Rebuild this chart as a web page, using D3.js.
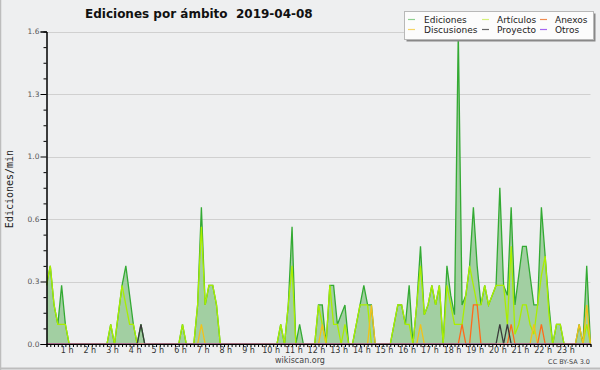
<!DOCTYPE html>
<html><head><meta charset="utf-8">
<script src="https://cdn.jsdelivr.net/npm/d3@7"></script>
<style>
body{margin:0;background:#eeeff0;}
svg{display:block;}
</style>
</head><body>
<svg id="c" width="600" height="370"></svg>
<script>
// ---------- data ----------
const chartTitle = "Ediciones por ámbito  2019-04-08";
const yTitle = "Ediciones/min";
const footer = "wikiscan.org";
const license = "CC BY-SA 3.0";
const stepMinutes = 10; // one value every 10 minutes, starting 00:00
const hourLabels = ["1 h","2 h","3 h","4 h","5 h","6 h","7 h","8 h","9 h","10 h","11 h","12 h","13 h","14 h","15 h","16 h","17 h","18 h","19 h","20 h","21 h","22 h","23 h"];
const yMajorTicks = [0, 0.32, 0.64, 0.96, 1.28, 1.6];
const seriesNames = ["Ediciones","Artículos","Anexos","Discusiones","Proyecto","Otros"];

const ediciones = [
0.3,0.4,0.2,0.1,0.3,0.1,0,0,0,0,
0,0,0,0,0,0,0,0.1,0,0.15,
0.3,0.4,0.25,0.1,0,0.1,0,0,0,0,
0,0,0,0,0,0,0.1,0,0,0,
0.2,0.7,0.2,0.3,0.3,0.2,0,0,0,0,
0,0,0,0,0,0,0,0,0,0,
0,0,0.1,0,0.2,0.6,0,0.1,0,0,
0,0,0.2,0.2,0,0.3,0.3,0.1,0.15,0.2,
0,0,0.1,0.2,0.3,0.2,0.2,0,0,0,
0,0,0.1,0.2,0.2,0.1,0.3,0,0.2,0.5,
0.15,0.2,0.3,0.2,0.3,0,0.4,0.25,0.15,1.6,
0.2,0.25,0.4,0.7,0.4,0.2,0.3,0.2,0.25,0.3,
0.8,0.3,0.25,0.7,0.2,0.35,0.5,0.5,0.35,0.2,
0.2,0.7,0.45,0.2,0,0.1,0.1,0,0,0,
0,0.1,0,0.4,0];

const articulos = [
0.3,0.4,0.2,0.1,0.1,0.1,0,0,0,0,
0,0,0,0,0,0,0,0.1,0,0.15,
0.3,0.2,0.1,0.1,0,0,0,0,0,0,
0,0,0,0,0,0,0.1,0,0,0,
0.2,0.6,0.2,0.3,0.3,0.2,0,0,0,0,
0,0,0,0,0,0,0,0,0,0,
0,0,0.1,0,0.2,0.4,0,0,0,0,
0,0,0.2,0.1,0,0.3,0.1,0.1,0,0.1,
0,0,0.1,0.2,0.2,0.2,0,0,0,0,
0,0,0.1,0.2,0.2,0.1,0.1,0,0.2,0.4,
0.15,0.2,0.3,0.2,0.3,0,0.3,0.2,0.1,0.1,
0.1,0.25,0.4,0.3,0.2,0.2,0.3,0.2,0.25,0.3,
0.3,0.3,0.1,0.5,0.05,0.1,0.2,0.2,0.1,0.05,
0.2,0.35,0.45,0.15,0,0.1,0.1,0,0,0,
0,0,0,0.1,0];

const anexos = [
0,0,0,0,0,0,0,0,0,0, 0,0,0,0,0,0,0,0,0,0,
0,0,0,0,0,0,0,0,0,0, 0,0,0,0,0,0,0,0,0,0,
0,0,0,0,0,0,0,0,0,0, 0,0,0,0,0,0,0,0,0,0,
0,0,0,0,0,0,0,0,0,0, 0,0,0,0,0,0,0,0,0,0,
0,0,0,0,0,0,0,0,0,0, 0,0,0,0,0,0,0,0,0,0,
0,0,0,0,0,0,0,0,0,0,
0.1,0,0,0.2,0.2,0,0,0,0,0,
0,0,0,0.1,0,0,0,0,0,0,
0,0.1,0,0,0,0,0,0,0,0,
0,0,0,0,0];

const discusiones = [
0,0,0,0,0,0,0,0,0,0, 0,0,0,0,0,0,0,0,0,0,
0,0,0,0,0,0,0,0,0,0, 0,0,0,0,0,0,0,0,0,0,
0,0.1,0,0,0,0,0,0,0,0, 0,0,0,0,0,0,0,0,0,0,
0,0,0,0,0,0,0,0,0,0, 0,0,0,0.1,0,0,0,0,0,0,
0,0,0,0,0,0,0.2,0,0,0, 0,0,0,0,0,0,0,0,0,0.1,
0,0,0,0,0,0,0,0,0,0, 0,0,0,0,0,0,0,0,0,0,
0,0,0,0,0,0,0,0,0,0.1,
0,0,0,0,0,0,0,0,0,0,
0,0.1,0,0.2,0];

const proyecto = [
0,0,0,0,0,0,0,0,0,0, 0,0,0,0,0,0,0,0,0,0,
0,0,0,0,0,0.1,0,0,0,0, 0,0,0,0,0,0,0,0,0,0,
0,0,0,0,0,0,0,0,0,0, 0,0,0,0,0,0,0,0,0,0,
0,0,0,0,0,0,0,0,0,0, 0,0,0,0,0,0,0,0,0,0,
0,0,0,0,0,0,0,0,0,0, 0,0,0,0,0,0,0,0,0,0,
0,0,0,0,0,0,0,0,0,0, 0,0,0,0,0,0,0,0,0,0,
0.1,0,0.1,0,0,0,0,0,0,0,
0,0,0,0,0,0,0,0,0,0,
0,0,0,0,0];

const otros = [
0,0,0,0,0,0,0,0,0,0, 0,0,0,0,0,0,0,0,0,0,
0,0,0,0,0,0,0,0,0,0, 0,0,0,0,0,0,0,0,0,0,
0,0,0,0,0,0,0,0,0,0, 0,0,0,0,0,0,0,0,0,0,
0,0,0,0,0,0,0,0,0,0, 0,0,0,0,0,0,0,0,0,0,
0,0,0,0,0,0,0,0,0,0, 0,0,0,0,0,0,0,0,0,0,
0,0,0,0,0,0,0,0,0,0, 0,0,0,0,0,0,0,0,0,0,
0,0,0,0,0,0,0,0,0,0,
0,0,0,0,0,0,0,0,0,0,
0,0,0,0,0];

// ---------- drawing ----------
const svg = d3.select("#c");
const FONT = "'DejaVu Sans', sans-serif";
const x = d3.scaleLinear().domain([0, 1440]).range([46.5, 590.5]);
const y = d3.scaleLinear().domain([0, 1.6]).range([344, 31.5]);

// background + frame
svg.append("rect").attr("width",600).attr("height",370).attr("fill","#eeeff0");
svg.append("line").attr("x1",0.5).attr("x2",0.5).attr("y1",0).attr("y2",370).attr("stroke","#bdbdbd").attr("stroke-width",1.5);
svg.append("line").attr("x1",0).attr("x2",600).attr("y1",368.5).attr("y2",368.5).attr("stroke","#bdbdbd").attr("stroke-width",2);

// grid
svg.append("g").selectAll("line").data(yMajorTicks.slice(1)).join("line")
  .attr("x1",x(0)).attr("x2",x(1440))
  .attr("y1",d=>Math.round(y(d))+0.5).attr("y2",d=>Math.round(y(d))+0.5)
  .attr("stroke","#d0d0d0").attr("stroke-width",1);

// clip so zero-valued segments hide under the axis
svg.append("clipPath").attr("id","plotclip").append("rect")
  .attr("x",x(0)).attr("y",0).attr("width",x(1440)-x(0)+2).attr("height",y(0)-0.4);

const xi = (d,i)=>x(i*stepMinutes);
const area = d3.area().x(xi).y0(y(0)).y1(d=>y(d));
const line = d3.line().x(xi).y(d=>y(d));

const plot = svg.append("g").attr("clip-path","url(#plotclip)");
plot.append("path").datum(ediciones).attr("d",area).attr("fill","#a2cfa2");

const colors = {
  Ediciones:"#33aa33", Artículos:"#aaee00", Anexos:"#ff6a1a",
  Discusiones:"#f2c21a", Proyecto:"#3a3a3a", Otros:"#9b3fe8"
};
const drawOrder = [
  ["Ediciones", ediciones], ["Artículos", articulos], ["Discusiones", discusiones],
  ["Anexos", anexos], ["Proyecto", proyecto], ["Otros", otros]
];
drawOrder.forEach(([name, arr])=>{
  plot.append("path").datum(arr).attr("d",line)
    .attr("fill","none").attr("stroke",colors[name]).attr("stroke-width",1.3)
    .attr("stroke-linejoin","miter");
});

// y axis
const yMinor = d3.range(0, 1.6001, 0.08).filter(v=>!yMajorTicks.some(m=>Math.abs(m-v)<1e-6));
const yAxisMinor = svg.append("g").attr("transform",`translate(${x(0)},0)`)
  .call(d3.axisLeft(y).tickValues(yMinor).tickSize(3).tickFormat(""));
const yAxis = svg.append("g").attr("transform",`translate(${x(0)},0)`)
  .call(d3.axisLeft(y).tickValues(yMajorTicks).tickSize(6).tickPadding(1).tickFormat(d=>d.toFixed(1)));
[yAxisMinor,yAxis].forEach(g=>{
  g.select(".domain").attr("stroke","#000");
  g.selectAll(".tick line").attr("stroke","#000");
});
yAxis.selectAll("text").attr("font-family",FONT).attr("font-size",7.5).attr("fill","#555");

// x axis
const xMinorVals = d3.range(0, 1440+1, stepMinutes);
const xAxis = svg.append("g").attr("transform",`translate(0,${y(0)})`)
  .call(d3.axisBottom(x).tickValues(xMinorVals).tickSize(3).tickFormat(""));
xAxis.select(".domain").attr("stroke","#000");
xAxis.selectAll(".tick line").attr("stroke","#000");
const xLab = svg.append("g").attr("transform",`translate(0,${y(0)})`)
  .call(d3.axisBottom(x).tickValues(hourLabels.map((d,i)=>(i+1)*60)).tickSize(0).tickPadding(3)
    .tickFormat((d,i)=>hourLabels[i]));
xLab.select(".domain").remove();
xLab.selectAll("text").attr("font-family",FONT).attr("font-size",8).attr("fill","#333").attr("dx",-2.5);

// titles
svg.append("text").attr("x",85).attr("y",18).attr("font-family",FONT).attr("font-weight","bold")
  .attr("font-size",12).attr("fill","#111").attr("xml:space","preserve").style("white-space","pre").text(chartTitle);
svg.append("text").attr("transform","translate(13,189) rotate(-90)").attr("text-anchor","middle")
  .attr("font-family","'DejaVu Sans Mono', monospace").attr("font-size",10).attr("fill","#222").text(yTitle);
svg.append("text").attr("x",300).attr("y",363).attr("text-anchor","middle")
  .attr("font-family",FONT).attr("font-size",8).attr("fill","#444").text(footer);
svg.append("text").attr("x",590).attr("y",364).attr("text-anchor","end")
  .attr("font-family",FONT).attr("font-size",6.5).attr("fill","#444").text(license);

// legend
const lg = svg.append("g");
lg.append("rect").attr("x",406.5).attr("y",13.5).attr("width",189).attr("height",28).attr("fill","#888");
lg.append("rect").attr("x",404.5).attr("y",11.5).attr("width",189).attr("height",28).attr("fill","#fcfcfc").attr("stroke","#b8b8b8");
const legendColors = {
  Ediciones:"#8fd08f", Artículos:"#d4f07a", Anexos:"#f08c50",
  Discusiones:"#f5d566", Proyecto:"#666666", Otros:"#a566f0"
};
const legendLayout = [
  ["Ediciones",0,0],["Artículos",1,0],["Anexos",2,0],
  ["Discusiones",0,1],["Proyecto",1,1],["Otros",2,1]
];
const colX = [408, 482, 540], textX = [424, 497, 555], rowY = [19.5, 29.5];
legendLayout.forEach(([name,c,r])=>{
  lg.append("line").attr("x1",colX[c]).attr("x2",colX[c]+7).attr("y1",rowY[r]).attr("y2",rowY[r])
    .attr("stroke",legendColors[name]).attr("stroke-width",1.2);
  lg.append("text").attr("x",textX[c]).attr("y",rowY[r]+3.3).attr("font-family",FONT)
    .attr("font-size",9).attr("fill","#222").text(name);
});
</script>
</body></html>
